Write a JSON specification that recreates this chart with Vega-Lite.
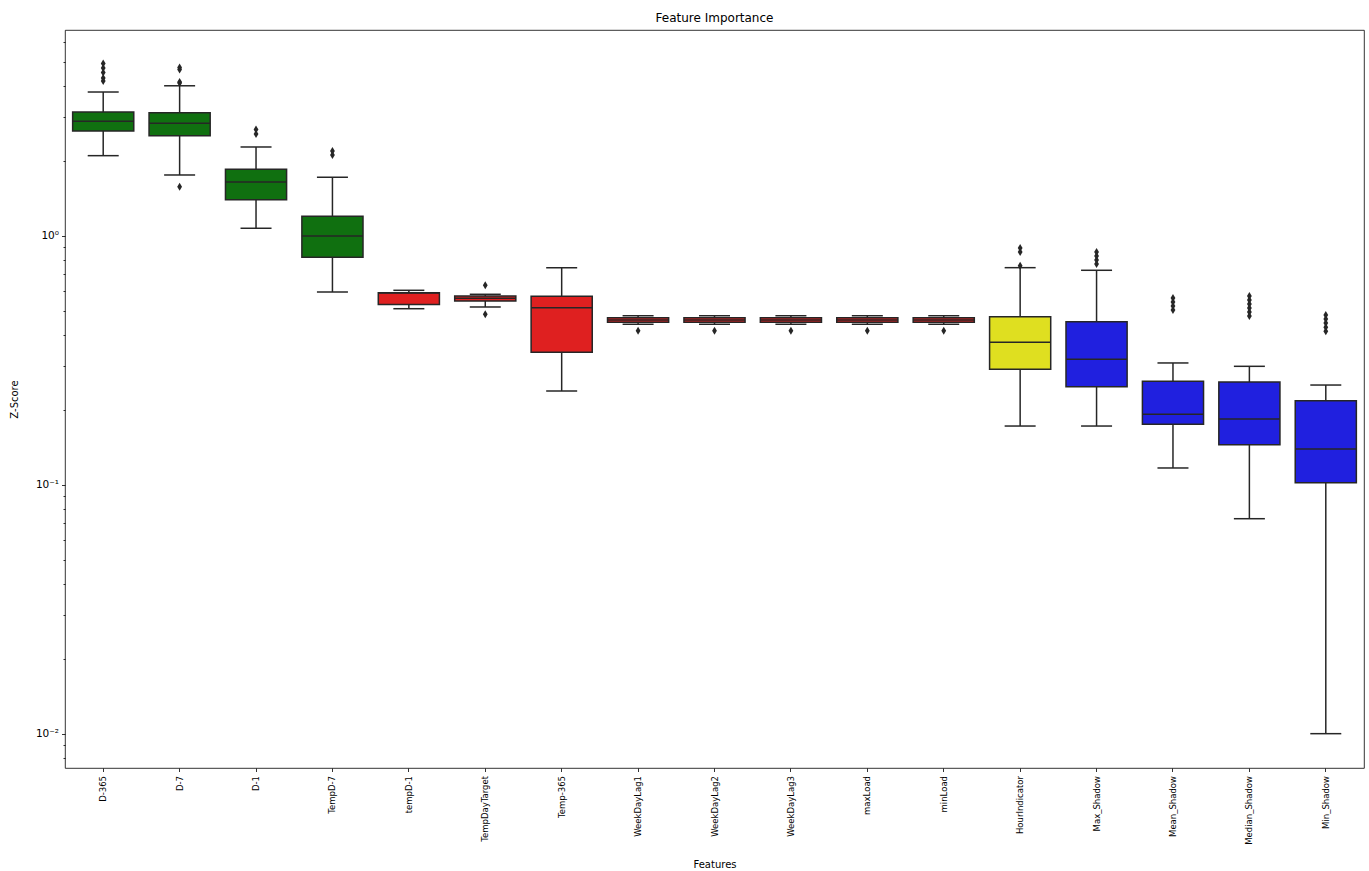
{
  "$schema": "https://vega.github.io/schema/vega-lite/v6.json",
  "width": 1299,
  "height": 738,
  "autosize": {"type": "none"},
  "padding": {"left": 65, "top": 30, "right": 5, "bottom": 103},
  "title": {"text": "Feature Importance", "fontSize": 12, "fontWeight": "normal", "color": "#000000", "offset": 5, "font": "DejaVu Sans"},
  "config": {
    "font": "DejaVu Sans",
    "view": {"stroke": "#000000", "strokeWidth": 0.8},
    "axis": {"grid": false, "domain": false, "tickColor": "#000000", "tickWidth": 0.8, "labelColor": "#000000", "titleColor": "#000000", "titleFontWeight": "normal"}
  },
  "datasets": {
    "boxes": [
      {"feature": "D-365", "group": "green", "lower": 2.096, "q1": 2.634, "median": 2.880, "q3": 3.140, "upper": 3.776},
      {"feature": "D-7", "group": "green", "lower": 1.753, "q1": 2.521, "median": 2.828, "q3": 3.119, "upper": 4.00},
      {"feature": "D-1", "group": "green", "lower": 1.071, "q1": 1.395, "median": 1.643, "q3": 1.848, "upper": 2.271},
      {"feature": "TempD-7", "group": "green", "lower": 0.594, "q1": 0.819, "median": 0.997, "q3": 1.196, "upper": 1.716},
      {"feature": "tempD-1", "group": "red", "lower": 0.509, "q1": 0.529, "median": 0.589, "q3": 0.590, "upper": 0.6035},
      {"feature": "TempDayTarget", "group": "red", "lower": 0.5172, "q1": 0.5467, "median": 0.5605, "q3": 0.5725, "upper": 0.5816},
      {"feature": "Temp-365", "group": "red", "lower": 0.2378, "q1": 0.340, "median": 0.514, "q3": 0.571, "upper": 0.744},
      {"feature": "WeekDayLag1", "group": "red", "lower": 0.4408, "q1": 0.4491, "median": 0.4587, "q3": 0.4686, "upper": 0.477},
      {"feature": "WeekDayLag2", "group": "red", "lower": 0.4408, "q1": 0.4491, "median": 0.4587, "q3": 0.4686, "upper": 0.477},
      {"feature": "WeekDayLag3", "group": "red", "lower": 0.4408, "q1": 0.4491, "median": 0.4587, "q3": 0.4686, "upper": 0.477},
      {"feature": "maxLoad", "group": "red", "lower": 0.4408, "q1": 0.4491, "median": 0.4587, "q3": 0.4686, "upper": 0.477},
      {"feature": "minLoad", "group": "red", "lower": 0.4408, "q1": 0.4491, "median": 0.4587, "q3": 0.4686, "upper": 0.477},
      {"feature": "HourIndicator", "group": "yellow", "lower": 0.172, "q1": 0.2907, "median": 0.3731, "q3": 0.4729, "upper": 0.744},
      {"feature": "Max_Shadow", "group": "blue", "lower": 0.172, "q1": 0.2475, "median": 0.319, "q3": 0.4516, "upper": 0.7262},
      {"feature": "Mean_Shadow", "group": "blue", "lower": 0.1167, "q1": 0.1748, "median": 0.1917, "q3": 0.2602, "upper": 0.3082},
      {"feature": "Median_Shadow", "group": "blue", "lower": 0.0730, "q1": 0.1447, "median": 0.1836, "q3": 0.2585, "upper": 0.2988},
      {"feature": "Min_Shadow", "group": "blue", "lower": 0.01, "q1": 0.1019, "median": 0.139, "q3": 0.2175, "upper": 0.2513}
    ],
    "outliers": [
      {"feature": "D-365", "value": 4.92}, {"feature": "D-365", "value": 4.72}, {"feature": "D-365", "value": 4.52}, {"feature": "D-365", "value": 4.30}, {"feature": "D-365", "value": 4.18},
      {"feature": "D-7", "value": 4.74}, {"feature": "D-7", "value": 4.65}, {"feature": "D-7", "value": 4.14}, {"feature": "D-7", "value": 4.10}, {"feature": "D-7", "value": 1.573},
      {"feature": "D-1", "value": 2.670}, {"feature": "D-1", "value": 2.562},
      {"feature": "TempD-7", "value": 2.189}, {"feature": "TempD-7", "value": 2.109},
      {"feature": "TempDayTarget", "value": 0.632}, {"feature": "TempDayTarget", "value": 0.4833},
      {"feature": "WeekDayLag1", "value": 0.4153},
      {"feature": "WeekDayLag2", "value": 0.4153},
      {"feature": "WeekDayLag3", "value": 0.4153},
      {"feature": "maxLoad", "value": 0.4153},
      {"feature": "minLoad", "value": 0.4153},
      {"feature": "HourIndicator", "value": 0.892}, {"feature": "HourIndicator", "value": 0.860}, {"feature": "HourIndicator", "value": 0.758},
      {"feature": "Max_Shadow", "value": 0.860}, {"feature": "Max_Shadow", "value": 0.829}, {"feature": "Max_Shadow", "value": 0.799}, {"feature": "Max_Shadow", "value": 0.770},
      {"feature": "Mean_Shadow", "value": 0.5622}, {"feature": "Mean_Shadow", "value": 0.5418}, {"feature": "Mean_Shadow", "value": 0.5222}, {"feature": "Mean_Shadow", "value": 0.5033},
      {"feature": "Median_Shadow", "value": 0.5725}, {"feature": "Median_Shadow", "value": 0.5518}, {"feature": "Median_Shadow", "value": 0.5319}, {"feature": "Median_Shadow", "value": 0.5127}, {"feature": "Median_Shadow", "value": 0.4941}, {"feature": "Median_Shadow", "value": 0.4763},
      {"feature": "Min_Shadow", "value": 0.4804}, {"feature": "Min_Shadow", "value": 0.4627}, {"feature": "Min_Shadow", "value": 0.4456}, {"feature": "Min_Shadow", "value": 0.4291}, {"feature": "Min_Shadow", "value": 0.4133}
    ]
  },
  "encoding": {
    "x": {
      "field": "feature", "type": "nominal",
      "scale": {"domain": ["D-365", "D-7", "D-1", "TempD-7", "tempD-1", "TempDayTarget", "Temp-365", "WeekDayLag1", "WeekDayLag2", "WeekDayLag3", "maxLoad", "minLoad", "HourIndicator", "Max_Shadow", "Mean_Shadow", "Median_Shadow", "Min_Shadow"], "paddingInner": 0, "paddingOuter": 0},
      "axis": {"title": "Features", "labelAngle": -90, "labelFontSize": 8.5, "tickSize": 3.5, "labelPadding": 4, "titleFontSize": 10, "titlePadding": 15}
    }
  },
  "layer": [
    {
      "data": {"name": "boxes"},
      "mark": {"type": "rule", "color": "#262626", "strokeWidth": 1.5},
      "encoding": {
        "y": {"field": "lower", "type": "quantitative",
          "scale": {"type": "log", "domain": [0.00728, 6.70], "nice": false},
          "axis": {
            "title": "Z-Score", "titleFontSize": 10, "titlePadding": 16, "labelFontSize": 10.5, "labelPadding": 3,
            "values": [0.008, 0.009, 0.01, 0.02, 0.03, 0.04, 0.05, 0.06, 0.07, 0.08, 0.09, 0.1, 0.2, 0.3, 0.4, 0.5, 0.6, 0.7, 0.8, 0.9, 1, 2, 3, 4, 5, 6],
            "labelExpr": "datum.value == 1 ? '10⁰' : (datum.value == 0.1 ? '10⁻¹' : (datum.value == 0.01 ? '10⁻²' : ''))",
            "tickSize": {"condition": {"test": "datum.value == 1 || datum.value == 0.1 || datum.value == 0.01", "value": 3.5}, "value": 2}
          }
        },
        "y2": {"field": "upper"}
      }
    },
    {
      "data": {"name": "boxes"},
      "mark": {"type": "tick", "color": "#262626", "thickness": 1.5, "size": 31, "opacity": 1},
      "encoding": {"y": {"field": "lower", "type": "quantitative"}}
    },
    {
      "data": {"name": "boxes"},
      "mark": {"type": "tick", "color": "#262626", "thickness": 1.5, "size": 31, "opacity": 1},
      "encoding": {"y": {"field": "upper", "type": "quantitative"}}
    },
    {
      "data": {"name": "boxes"},
      "mark": {"type": "bar", "width": {"band": 0.8}, "stroke": "#262626", "strokeWidth": 1.5, "opacity": 1},
      "encoding": {
        "y": {"field": "q1", "type": "quantitative"},
        "y2": {"field": "q3"},
        "fill": {"field": "group", "type": "nominal", "legend": null,
          "scale": {"domain": ["green", "red", "yellow", "blue"], "range": ["#107010", "#df2020", "#dfdf20", "#2020df"]}}
      }
    },
    {
      "data": {"name": "boxes"},
      "mark": {"type": "tick", "color": "#262626", "thickness": 1.5, "size": 61, "opacity": 1},
      "encoding": {"y": {"field": "median", "type": "quantitative"}}
    },
    {
      "data": {"name": "outliers"},
      "mark": {"type": "point", "filled": true, "color": "#262626", "opacity": 1, "size": 64, "shape": "M0,-1L0.6,0L0,1L-0.6,0Z"},
      "encoding": {"y": {"field": "value", "type": "quantitative"}}
    }
  ]
}
